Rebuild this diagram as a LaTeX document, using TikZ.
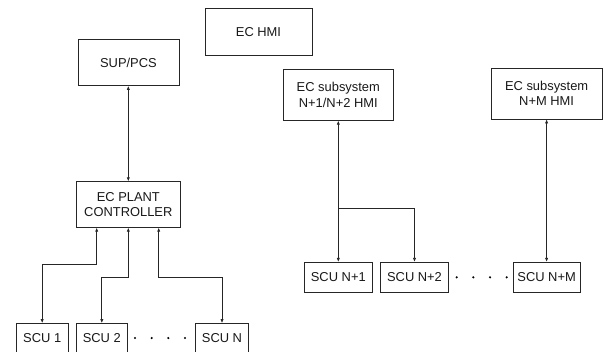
\documentclass[tikz,border=0pt]{standalone}
\usepackage{fontspec}
\setmainfont{Liberation Sans}
\usetikzlibrary{arrows.meta}
\begin{document}
\begin{tikzpicture}[x=1pt,y=-1pt,
  box/.style={draw=black!85,line width=0.7pt,inner sep=0pt,align=center,
    font=\fontsize{12.9}{15.5}\selectfont,text=black!90},
  link/.style={draw=black!85,line width=0.7pt},
  both/.style={link,{Latex[length=4pt,width=3.2pt]}-{Latex[length=4pt,width=3.2pt]}},
  one/.style={link,-{Latex[length=4pt,width=3.2pt]}},
  dotm/.style={fill=black,inner sep=0pt,minimum size=2.4pt,circle}]
\clip (0,0) rectangle (604,351);
\fill[white] (0,0) rectangle (604,351);
% boxes
\node[box,minimum width=107pt,minimum height=47pt] (hmi) at (258.5,31.8) {EC HMI};
\node[box,minimum width=101pt,minimum height=46pt] (sup) at (128.4,62.5) {SUP/PCS};
\node[box,minimum width=104.7pt,minimum height=45.6pt] (pc) at (128.3,204.5) {EC PLANT\\CONTROLLER};
\node[box,minimum width=52.3pt,minimum height=30pt] (scu1) at (42.2,338.5) {SCU 1};
\node[box,minimum width=51.7pt,minimum height=30pt] (scu2) at (101.8,338.5) {SCU 2};
\node[box,minimum width=52.6pt,minimum height=30pt] (scuN) at (222,338.5) {SCU N};
\node[box,minimum width=110.7pt,minimum height=51pt] (hmiA) at (338.3,94.8) {EC subsystem\\N+1/N+2 HMI};
\node[box,minimum width=110.7pt,minimum height=51pt] (hmiM) at (546.6,93.5) {EC subsystem\\N+M HMI};
\node[box,minimum width=68pt,minimum height=30pt] (scuN1) at (338.3,277.3) {SCU N+1};
\node[box,minimum width=67.6pt,minimum height=30pt] (scuN2) at (414.5,277.3) {SCU N+2};
\node[box,minimum width=67.3pt,minimum height=30pt] (scuNM) at (546.6,277.3) {SCU N+M};
% dots
\node[dotm] (d1) at (135,338) {};
\node[dotm] (d2) at (151.7,338) {};
\node[dotm] (d3) at (168.3,338) {};
\node[dotm] (d4) at (185,338) {};
\node[dotm] (e1) at (456.7,277.3) {};
\node[dotm] (e2) at (473.3,277.3) {};
\node[dotm] (e3) at (490,277.3) {};
\node[dotm] (e4) at (506.7,277.3) {};
% connectors
\draw[both] (pc.north |- sup.south) -- (pc.north);
\draw[both] ([xshift=-31.6pt]pc.south) -- ++(0,36.7) -| (scu1.north);
\draw[both] (pc.south) -- ++(0,49.4) -| (scu2.north);
\draw[both] ([xshift=30.4pt]pc.south) -- ++(0,49.4) -| (scuN.north);
\draw[both] (hmiA.south) -- (scuN1.north);
\coordinate (br) at (338.3,208.7);
\draw[one] (br) -| (scuN2.north);
\draw[both] (hmiM.south) -- (scuNM.north);
\end{tikzpicture}
\end{document}
